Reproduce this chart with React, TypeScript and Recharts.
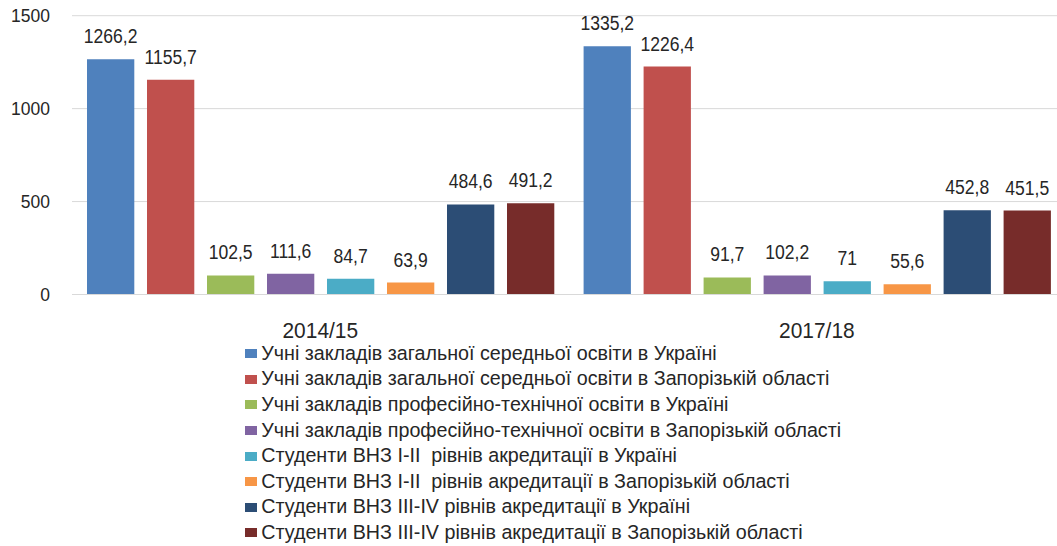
import React from 'react';
import { BarChart, Bar, XAxis, YAxis, CartesianGrid, Legend, LabelList } from 'recharts';

const categories = ['2014/15', '2017/18'];

const seriesNames = [
  'Учні закладів загальної середньої освіти в Україні',
  'Учні закладів загальної середньої освіти в Запорізькій області',
  'Учні закладів професійно-технічної освіти в Україні',
  'Учні закладів професійно-технічної освіти в Запорізькій області',
  'Студенти ВНЗ І-ІІ  рівнів акредитації в Україні',
  'Студенти ВНЗ І-ІІ  рівнів акредитації в Запорізькій області',
  'Студенти ВНЗ ІІІ-ІV рівнів акредитації в Україні',
  'Студенти ВНЗ ІІІ-ІV рівнів акредитації в Запорізькій області',
];

const seriesColors = ['#4F81BD', '#C0504D', '#9BBB59', '#8064A2', '#4BACC6', '#F79646', '#2C4D75', '#772C2A'];

const generalUkraine = [1266.2, 1335.2];
const generalZap = [1155.7, 1226.4];
const vocationalUkraine = [102.5, 91.7];
const vocationalZap = [111.6, 102.2];
const level12Ukraine = [84.7, 71];
const level12Zap = [63.9, 55.6];
const level34Ukraine = [484.6, 452.8];
const level34Zap = [491.2, 451.5];

const seriesValues = [
  generalUkraine,
  generalZap,
  vocationalUkraine,
  vocationalZap,
  level12Ukraine,
  level12Zap,
  level34Ukraine,
  level34Zap,
];

const yTicks = [0, 500, 1000, 1500];

const keys = seriesNames.map((_, i) => `s${i}`);

const data = categories.map((cat, ci) => {
  const row: Record<string, string | number> = { category: cat };
  keys.forEach((k, si) => {
    row[k] = seriesValues[si][ci];
  });
  return row;
});

const FONT = '"Liberation Sans", Arial, sans-serif';
const TEXT = '#262626';

const fmt = (v: any) => String(v).replace('.', ',');

const squeeze = (cx: number, s: number) => `translate(${cx},0) scale(${s},1) translate(${-cx},0)`;

const ValueLabel = (props: any) => {
  const { x, y, width, value } = props;
  const cx = Number(x) + Number(width) / 2;
  return (
    <text
      x={cx}
      y={Number(y) - 16}
      textAnchor="middle"
      fontSize={19.5}
      fill={TEXT}
      fontFamily={FONT}
      transform={squeeze(cx, 0.9)}
    >
      {fmt(value)}
    </text>
  );
};

const CategoryTick = (props: any) => {
  const { x, y, payload } = props;
  return (
    <text
      x={x}
      y={y}
      dy="0.71em"
      textAnchor="middle"
      fontSize={22.5}
      fill={TEXT}
      fontFamily={FONT}
      transform={squeeze(Number(x), 0.93)}
    >
      {payload.value}
    </text>
  );
};

const LegendContent = () => (
  <div style={{ height: 206, paddingTop: 1, boxSizing: 'border-box', fontFamily: FONT }}>
    {seriesNames.map((name, i) => (
      <div
        key={name}
        style={{ height: 25.57, display: 'flex', alignItems: 'center', whiteSpace: 'pre' }}
      >
        <span
          style={{
            display: 'inline-block',
            width: 12.6,
            height: 9,
            background: seriesColors[i],
            marginRight: 4,
            flex: 'none',
          }}
        />
        <span
          style={{
            display: 'inline-block',
            fontSize: 19.7,
            color: TEXT,
            lineHeight: 0.8,
          }}
        >
          {name}
        </span>
      </div>
    ))}
  </div>
);

export default function App() {
  return (
    <div
      style={{
        position: 'absolute',
        left: 0,
        top: 0,
        width: 1057,
        height: 546,
        overflow: 'hidden',
        background: '#fff',
      }}
    >
      <BarChart
        width={1066}
        height={546}
        data={data}
        margin={{ top: 15.7, right: 0.8, left: 0, bottom: 0 }}
        barSize={47.3}
        barGap={12.7}
        style={{ fontFamily: FONT }}
      >
        <CartesianGrid vertical={false} stroke="#d9d9d9" />
        <XAxis
          dataKey="category"
          height={45.5}
          tickLine={false}
          tickSize={0}
          tickMargin={28}
          axisLine={{ stroke: '#d9d9d9' }}
          tick={<CategoryTick />}
        />
        <YAxis
          width={72}
          domain={[0, 1500]}
          ticks={yTicks}
          interval={0}
          axisLine={false}
          tickLine={false}
          tickSize={0}
          tickMargin={22}
          tick={{ fontSize: 17.5, fill: TEXT, fontFamily: FONT }}
        />
        <Legend
          layout="vertical"
          align="center"
          verticalAlign="bottom"
          content={<LegendContent />}
          wrapperStyle={{ left: 244.7, width: 760 }}
        />
        {keys.map((k, i) => (
          <Bar
            key={k}
            dataKey={k}
            name={seriesNames[i]}
            fill={seriesColors[i]}
            isAnimationActive={false}
          >
            <LabelList dataKey={k} position="top" content={<ValueLabel />} />
          </Bar>
        ))}
      </BarChart>
    </div>
  );
}
